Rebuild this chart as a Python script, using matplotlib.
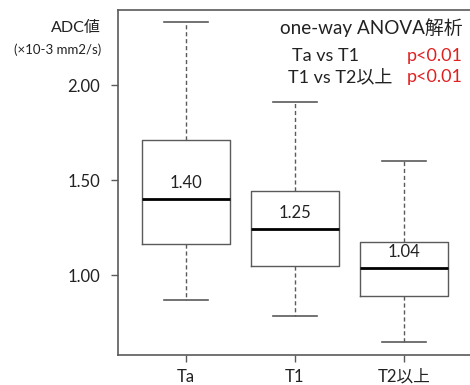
import matplotlib
matplotlib.use("Agg")
import matplotlib.pyplot as plt

plt.rcParams['font.family'] = ['Lato', 'Noto Sans CJK JP', 'DejaVu Sans']

# data (x10-3 mm2/s)
groups = ['Ta', 'T1', 'T2以上']
whislo = [0.868, 0.784, 0.647]
q1 = [1.163, 1.047, 0.889]
med = [1.40, 1.242, 1.037]
q3 = [1.711, 1.442, 1.174]
whishi = [2.332, 1.911, 1.600]
med_labels = ['1.40', '1.25', '1.04']
yticks = [1.00, 1.50, 2.00]

W, H = 470, 385
fig = plt.figure(figsize=(W / 100, H / 100), dpi=100)
ax = fig.add_axes([118 / W, 30 / H, 1 - 118 / W, 345 / H])

stats = []
for i, g in enumerate(groups):
    stats.append(dict(label=g, whislo=whislo[i], q1=q1[i], med=med[i],
                      q3=q3[i], whishi=whishi[i], fliers=[]))

gray = '#5a5a5a'
ax.bxp(stats, positions=[1, 2, 3], widths=0.8, showfliers=False,
       boxprops=dict(color=gray, linewidth=1.0),
       whiskerprops=dict(color=gray, linewidth=1.0, linestyle=(0, (3, 2))),
       capprops=dict(color=gray, linewidth=1.2),
       medianprops=dict(color='black', linewidth=2.0))

for i, lab in enumerate(med_labels):
    ax.text(i + 1, med[i] + 0.04, lab, ha='center', va='bottom',
            fontsize=12, color='#222222')

ax.set_xlim(0.376, 3.606)
ax.set_ylim(0.579, 2.395)
ax.set_yticks(yticks)
ax.set_yticklabels([f'{v:.2f}' for v in yticks])
ax.set_xticks([1, 2, 3])
ax.set_xticklabels(groups)
ax.tick_params(axis='both', colors=gray, labelcolor='#222222', labelsize=12,
               length=5, width=1)
ax.tick_params(axis='y', pad=8)
ax.tick_params(axis='x', pad=5)
ax.spines['right'].set_visible(False)
for s in ['left', 'bottom', 'top']:
    ax.spines[s].set_color(gray)
    ax.spines[s].set_linewidth(1.2)

fig.text(101 / W, 1 - 28 / H, 'ADC値', ha='right', va='center',
         fontsize=11.5, color='#222222')
fig.text(101 / W, 1 - 50 / H, '(×10-3 mm2/s)', ha='right', va='center',
         fontsize=9.5, color='#222222')

fig.text(463 / W, 1 - 28 / H, 'one-way ANOVA解析', ha='right', va='center',
         fontsize=13.6, color='#222222')
fig.text(292 / W, 1 - 56 / H, 'Ta vs T1', ha='left', va='center',
         fontsize=13, color='#222222')
fig.text(288 / W, 1 - 77 / H, 'T1 vs T2以上', ha='left', va='center',
         fontsize=13, color='#222222')
fig.text(463 / W, 1 - 56 / H, 'p<0.01', ha='right', va='center',
         fontsize=13, color='#e02020')
fig.text(463 / W, 1 - 77 / H, 'p<0.01', ha='right', va='center',
         fontsize=13, color='#e02020')

fig.savefig('out.png', dpi=100)
